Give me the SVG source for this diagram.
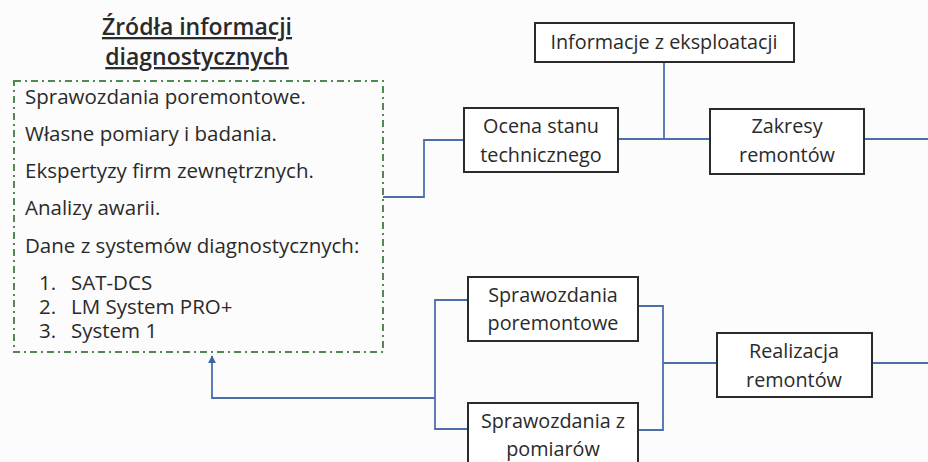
<svg xmlns="http://www.w3.org/2000/svg" width="928" height="462" viewBox="0 0 928 462">
  <style>
    .box { fill: #ffffff; stroke: #2b2b2b; stroke-width: 2; }
    .lbl { font-family: "Open Sans", "Noto Sans", sans-serif; font-size: 19.8px; fill: #2a2a2a; text-anchor: middle; }
    .src { font-family: "Open Sans", "Noto Sans", sans-serif; font-size: 20.5px; fill: #2a2a2a; }
    .title { font-family: "Open Sans", "Noto Sans", sans-serif; font-size: 23px; font-weight: 600; fill: #2a2a2a; text-anchor: middle; text-decoration: underline; }
    .wire { fill: none; stroke: #4b6fae; stroke-width: 1.8; }
  </style>
  <defs>
    <marker id="arrow" viewBox="0 0 10 10" refX="9" refY="5" markerWidth="8" markerHeight="10" markerUnits="userSpaceOnUse" orient="auto">
      <path d="M0,0 L10,5 L0,10 z" fill="#3d63a8"/>
    </marker>
  </defs>
  <rect width="928" height="462" fill="#fcfcfc"/>

  <!-- connectors -->
  <g id="connectors">
    <polyline class="wire" points="383,197 424,197 424,140 464,140"/>
    <polyline class="wire" points="618,139 710,139"/>
    <polyline class="wire" points="664,62 664,139"/>
    <polyline class="wire" points="864,139 928,139"/>
    <polyline class="wire" points="638,306 663,306 663,430 638,430"/>
    <polyline class="wire" points="663,363 717,363"/>
    <polyline class="wire" points="872,363 928,363"/>
    <polyline class="wire" points="468,300 435,300 435,429 468,429"/>
    <polyline class="wire" points="435,398 212,398 212,356" marker-end="url(#arrow)"/>
  </g>

  <!-- sources of diagnostic information -->
  <g id="sources">
    <text class="title" x="197" y="35">Źródła informacji</text>
    <text class="title" x="197" y="65">diagnostycznych</text>
    <rect x="14" y="81" width="369" height="271" fill="none" stroke="#4f8a4f" stroke-width="2" stroke-dasharray="7,4,2,4"/>
    <text class="src" x="25" y="104">Sprawozdania poremontowe.</text>
    <text class="src" x="25" y="141">Własne pomiary i badania.</text>
    <text class="src" x="25" y="178">Ekspertyzy firm zewnętrznych.</text>
    <text class="src" x="25" y="215">Analizy awarii.</text>
    <text class="src" x="25" y="253">Dane z systemów diagnostycznych:</text>
    <text class="src" x="39" y="290">1.</text>
    <text class="src" x="71" y="290">SAT-DCS</text>
    <text class="src" x="39" y="314">2.</text>
    <text class="src" x="71" y="314">LM System PRO+</text>
    <text class="src" x="39" y="338">3.</text>
    <text class="src" x="71" y="338">System 1</text>
  </g>

  <g id="info-eksploatacja">
    <rect class="box" x="535" y="23" width="259" height="39"/>
    <text class="lbl" x="664" y="49">Informacje z eksploatacji</text>
  </g>

  <g id="ocena-stanu">
    <rect class="box" x="464" y="108" width="154" height="64"/>
    <text class="lbl" x="541" y="133">Ocena stanu</text>
    <text class="lbl" x="541" y="162">technicznego</text>
  </g>

  <g id="zakresy">
    <rect class="box" x="710" y="109" width="154" height="65"/>
    <text class="lbl" x="787" y="133">Zakresy</text>
    <text class="lbl" x="787" y="162">remontów</text>
  </g>

  <g id="spr-poremontowe">
    <rect class="box" x="468" y="277" width="170" height="64"/>
    <text class="lbl" x="553" y="302">Sprawozdania</text>
    <text class="lbl" x="553" y="330">poremontowe</text>
  </g>

  <g id="spr-pomiary">
    <rect class="box" x="468" y="403" width="170" height="70"/>
    <text class="lbl" x="553" y="428">Sprawozdania z</text>
    <text class="lbl" x="553" y="456">pomiarów</text>
  </g>

  <g id="realizacja">
    <rect class="box" x="717" y="333" width="155" height="64"/>
    <text class="lbl" x="794" y="358">Realizacja</text>
    <text class="lbl" x="794" y="387">remontów</text>
  </g>
</svg>
